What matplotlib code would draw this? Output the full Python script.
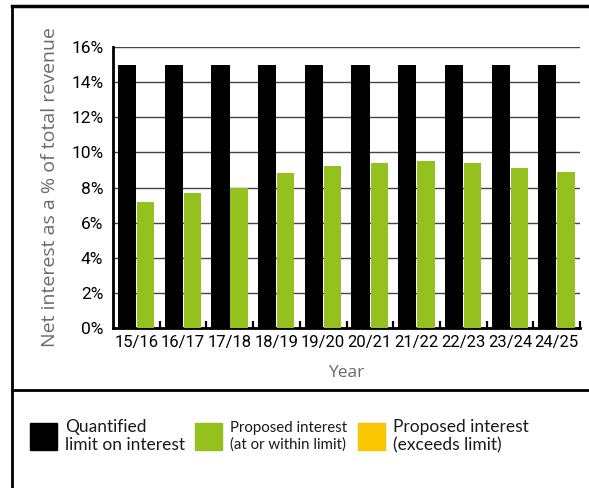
import numpy as np
import matplotlib
matplotlib.use('Agg')
import matplotlib.pyplot as plt
from matplotlib.patches import Rectangle
from matplotlib.lines import Line2D

years = ['15/16', '16/17', '17/18', '18/19', '19/20', '20/21', '21/22', '22/23', '23/24', '24/25']
limit = [15, 15, 15, 15, 15, 15, 15, 15, 15, 15]
proposed = [7.2, 7.7, 8.0, 8.8, 9.2, 9.4, 9.5, 9.4, 9.1, 8.9]

BLACK = '#000000'
GREEN = '#95C11F'
YELLOW = '#F9C700'
GRAY = '#6b6b6b'

narrow = ['Roboto', 'DejaVu Sans']
body = ['Open Sans', 'DejaVu Sans']
legend_font = ['Lato', 'DejaVu Sans']

W, H = 589, 488
fig = plt.figure(figsize=(W / 100, H / 100), dpi=100)
ax = fig.add_axes([113 / W, 1 - 328 / H, (580 - 113) / W, (328 - 47) / H])

x = np.arange(len(years))
ax.bar(x - 0.2, limit, width=0.39, color=BLACK, zorder=3)
ax.bar(x + 0.2, proposed, width=0.37, color=GREEN, zorder=3)

ax.set_xlim(-0.5, len(years) - 0.5)
ax.set_ylim(0, 16)
ax.set_yticks(np.arange(0, 17, 2))
ax.set_yticklabels([f'{v}%' for v in range(0, 17, 2)], family=narrow, fontsize=12.5)
ax.set_xticks(x)
ax.set_xticklabels(years, family=narrow, fontsize=12)
ax.set_xticks(np.arange(0.5, len(years), 1), minor=True)
ax.tick_params(axis='x', which='major', length=0, pad=5)
ax.tick_params(axis='x', which='minor', direction='in', length=5, width=1.6, color=BLACK)
ax.tick_params(axis='y', length=0, pad=7)

ax.yaxis.grid(True, color='#444444', linewidth=1.0, zorder=0)
ax.set_axisbelow(True)
for s in ['top', 'right']:
    ax.spines[s].set_visible(False)
for s in ['left', 'bottom']:
    ax.spines[s].set_linewidth(2)
    ax.spines[s].set_color(BLACK)

ax.set_ylabel('Net interest as a % of total revenue', family=body, fontsize=14, color=GRAY, labelpad=9)
ax.set_xlabel('Year', family=body, fontsize=12.5, color=GRAY, labelpad=11)

# frame lines
fig.add_artist(Line2D([12 / W, 12 / W], [0, 1 - 6 / H], color=BLACK, linewidth=2, transform=fig.transFigure))
fig.add_artist(Line2D([12 / W, 1], [1 - 6 / H, 1 - 6 / H], color=BLACK, linewidth=2.5, transform=fig.transFigure))
fig.add_artist(Line2D([12 / W, 1], [1 - 390 / H, 1 - 390 / H], color=BLACK, linewidth=2, transform=fig.transFigure))

# legend
legend_items = [
    (30, BLACK, 65, 'Quantified\nlimit on interest', 12.5),
    (195, GREEN, 230, 'Proposed interest\n(at or within limit)', 10.8),
    (358, YELLOW, 393, 'Proposed interest\n(exceeds limit)', 12.5),
]
for sx, col, tx, label, fs in legend_items:
    fig.add_artist(Rectangle((sx / W, 1 - 450 / H), 27 / W, 27 / H, color=col, transform=fig.transFigure))
    fig.text(tx / W, 1 - 436 / H, label, family=legend_font, fontsize=fs, color='#1a1a1a',
             va='center', ha='left', linespacing=1.2)

fig.savefig('out.png', dpi=100)
